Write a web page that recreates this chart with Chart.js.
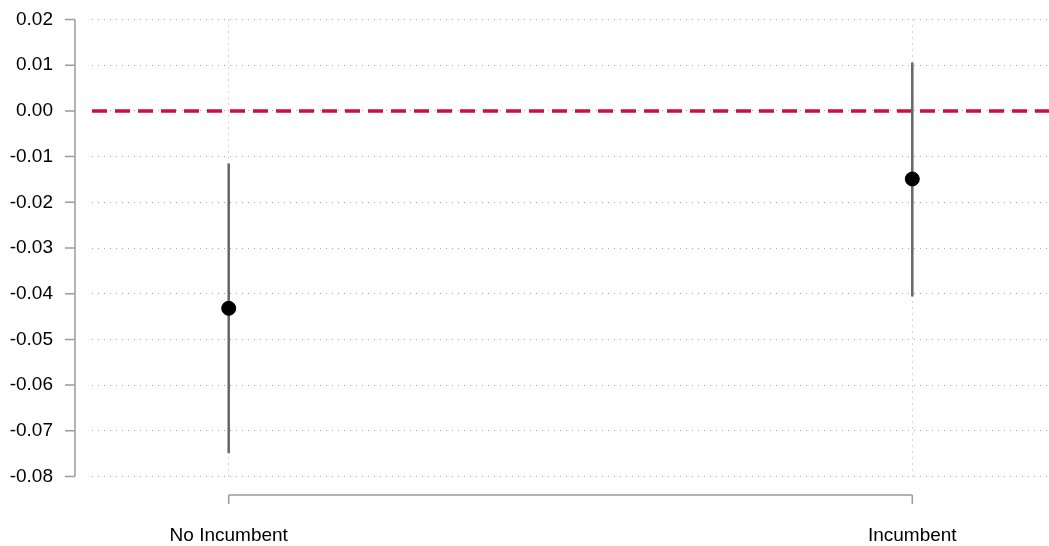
<!DOCTYPE html>
<html>
<head>
<meta charset="utf-8">
<script src="https://cdn.jsdelivr.net/npm/chart.js@4"></script>
<style>
  html, body { margin: 0; padding: 0; background: #fff; overflow: hidden; }
  #wrap { width: 1049px; height: 546px; position: relative; }
</style>
</head>
<body>
<div id="wrap"><canvas id="chart"></canvas></div>
<script>
// data
const categories = ['No Incumbent', 'Incumbent'];
const estimates = [-0.0432, -0.0149];
const lowerCI = [-0.0749, -0.0406];
const upperCI = [-0.0115, 0.0106];
const yTicks = [0.02, 0.01, 0.00, -0.01, -0.02, -0.03, -0.04, -0.05, -0.06, -0.07, -0.08];
const refValue = 0;

const axisGray = '#9c9c9c';
const gridGray = '#a8a8a8';
const FONT = "'Liberation Sans', Arial, Helvetica, sans-serif";

// R-style detached axes (drawn from the scales)
const rAxes = {
    id: 'rAxes',
    afterDraw(chart) {
        const ctx = chart.ctx;
        const x = chart.scales.x, y = chart.scales.y;
        ctx.save();
        ctx.strokeStyle = axisGray;
        ctx.lineWidth = 1.5;
        // y axis
        const ax = 75;
        const yTop = y.getPixelForValue(yTicks[0]);
        const yBot = y.getPixelForValue(yTicks[yTicks.length - 1]);
        ctx.beginPath();
        ctx.moveTo(ax, yTop);
        ctx.lineTo(ax, yBot);
        yTicks.forEach(v => {
            const py = y.getPixelForValue(v);
            ctx.moveTo(ax - 10, py);
            ctx.lineTo(ax, py);
        });
        // x axis
        const ay = 495;
        const x0 = x.getPixelForValue(0), x1 = x.getPixelForValue(categories.length - 1);
        ctx.moveTo(x0, ay);
        ctx.lineTo(x1, ay);
        categories.forEach((c, i) => {
            const px = x.getPixelForValue(i);
            ctx.moveTo(px, ay);
            ctx.lineTo(px, ay + 9);
        });
        ctx.stroke();
        ctx.restore();
    }
};

const datasets = [];

// zero reference line
datasets.push({
    data: [{ x: -0.2, y: refValue }, { x: categories.length - 1 + 0.2, y: refValue }],
    borderColor: '#cc0f3c',
    borderWidth: 3.5,
    borderDash: [15, 8],
    pointRadius: 0,
    showLine: true,
    order: 3
});

// confidence intervals
categories.forEach((c, i) => {
    datasets.push({
        data: [{ x: i, y: lowerCI[i] }, { x: i, y: upperCI[i] }],
        borderColor: '#666666',
        borderWidth: 2.5,
        pointRadius: 0,
        showLine: true,
        order: 2
    });
});

// point estimates
datasets.push({
    data: estimates.map((v, i) => ({ x: i, y: v })),
    backgroundColor: '#000',
    borderColor: '#000',
    pointRadius: 7,
    showLine: false,
    order: 1
});

new Chart(document.getElementById('chart'), {
    type: 'scatter',
    data: { datasets },
    plugins: [rAxes],
    options: {
        responsive: true,
        maintainAspectRatio: false,
        animation: false,
        layout: {
            autoPadding: false,
            padding: { top: 19.5, right: 0, left: 0, bottom: 0 }
        },
        plugins: {
            legend: { display: false },
            tooltip: { enabled: false }
        },
        scales: {
            x: {
                type: 'linear',
                min: -0.2,
                max: categories.length - 1 + 0.2,
                afterBuildTicks(scale) {
                    scale.ticks = categories.map((c, i) => ({ value: i }));
                },
                afterFit(scale) {
                    scale.height = 69.5;
                    scale.paddingLeft = 0;
                    scale.paddingRight = 0;
                },
                border: { display: false, dash: [1, 5] },
                grid: {
                    color: gridGray,
                    lineWidth: 1,
                    tickLength: 48,
                    tickColor: 'rgba(0,0,0,0)'
                },
                ticks: {
                    padding: 0,
                    color: '#000',
                    font: { family: FONT, size: 19 },
                    callback: v => categories[v] ?? ''
                }
            },
            y: {
                min: -0.08,
                max: 0.02,
                afterBuildTicks(scale) {
                    scale.ticks = yTicks.map(v => ({ value: v }));
                },
                afterFit(scale) {
                    scale.width = 92;
                    scale.paddingTop = 0;
                    scale.paddingBottom = 0;
                },
                border: { display: false, dash: [1, 5] },
                grid: {
                    color: gridGray,
                    lineWidth: 1,
                    tickLength: 39,
                    tickColor: 'rgba(0,0,0,0)'
                },
                ticks: {
                    padding: 0,
                    color: '#000',
                    font: { family: FONT, size: 19 },
                    callback: v => v.toFixed(2)
                }
            }
        }
    },
});
</script>
</body>
</html>
